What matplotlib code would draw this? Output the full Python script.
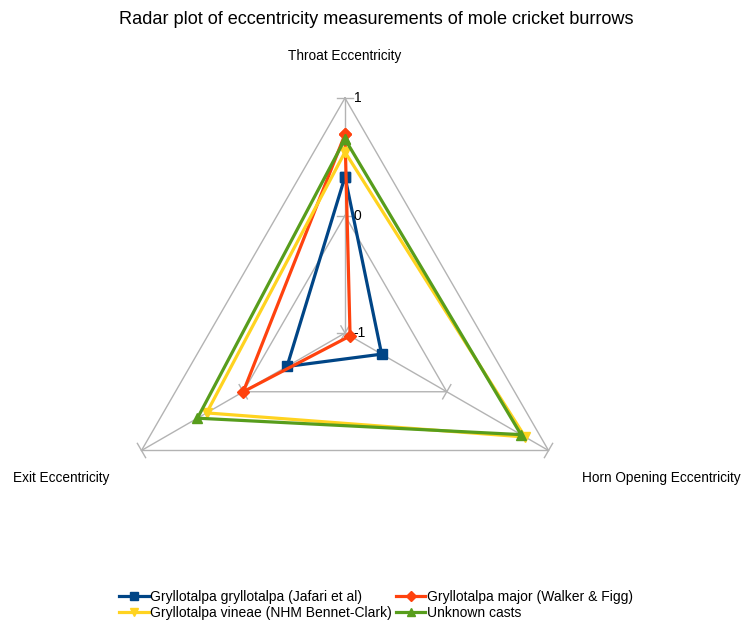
import numpy as np
import matplotlib

matplotlib.use("Agg")
import matplotlib.pyplot as plt  # noqa: E402

plt.rcParams["font.family"] = ["Liberation Sans", "DejaVu Sans"]

# Radar axes, clockwise from the top
AXES = ["Throat Eccentricity", "Horn Opening Eccentricity", "Exit Eccentricity"]
LEVELS = [-1, 0, 1]

SERIES = [
    "Gryllotalpa gryllotalpa (Jafari et al)",
    "Gryllotalpa major (Walker & Figg)",
    "Gryllotalpa vineae (NHM Bennet-Clark)",
    "Unknown casts",
]
gryllotalpa = [0.33, -0.64, -0.43]
major = [0.69, -0.95, 0.0]
vineae = [0.54, 0.77, 0.36]
unknown = [0.65, 0.73, 0.45]
VALUES = [gryllotalpa, major, vineae, unknown]

COLOR = ["#004586", "#ff420e", "#ffd320", "#579d1c"]
MARKER = ["s", "D", "v", "^"]
MSIZE = [7, 6, 7, 7]
GRID = "#b3b3b3"

# angle of each spoke (top, lower right, lower left)
ANG = np.deg2rad([90, -30, 210])
RMIN = LEVELS[0]


def xy(vals):
    r = np.asarray(vals, dtype=float) - RMIN
    return r * np.cos(ANG), r * np.sin(ANG)


W, H = 742, 623
fig = plt.figure(figsize=(W / 100, H / 100), dpi=100)
S = 117.5  # pixels per unit
cx, cy = 345, H - 333
xl, yl = (-2.5, 2.5), (-1.2, 2.1)
ax = fig.add_axes([(cx + xl[0] * S) / W, (cy + yl[0] * S) / H,
                   (xl[1] - xl[0]) * S / W, (yl[1] - yl[0]) * S / H])
ax.set_xlim(*xl)
ax.set_ylim(*yl)
ax.axis("off")

# grid: triangles, spokes and small ticks
for lv in LEVELS[1:]:
    gx, gy = xy([lv] * 3)
    ax.plot(np.append(gx, gx[0]), np.append(gy, gy[0]), color=GRID, lw=1.0, zorder=1)
ox, oy = xy([LEVELS[-1]] * 3)
for a, x1, y1 in zip(ANG, ox, oy):
    ax.plot([0, x1], [0, y1], color=GRID, lw=1.0, zorder=1)
    px, py = -np.sin(a), np.cos(a)
    for lv in LEVELS:
        r = lv - RMIN
        bx, by = r * np.cos(a), r * np.sin(a)
        ax.plot([bx - 0.07 * px, bx + 0.07 * px], [by - 0.07 * py, by + 0.07 * py],
                color=GRID, lw=1.0, zorder=1)
for lv in LEVELS:
    ax.text(0.075, lv - RMIN, str(lv), fontsize=10, ha="left", va="center", zorder=5)

handles = []
for name, vals, c, m, ms in zip(SERIES, VALUES, COLOR, MARKER, MSIZE):
    x, y = xy(vals)
    h, = ax.plot(np.append(x, x[0]), np.append(y, y[0]), color=c, lw=2.3,
                 marker=m, ms=ms, label=name, zorder=3)
    handles.append(h)

fig.text(376 / W, 1 - 20 / H, "Radar plot of eccentricity measurements of mole cricket burrows",
         ha="center", va="center", fontsize=13.1)
fig.text(345 / W, 1 - 56 / H, AXES[0], ha="center", va="center", fontsize=9.8)
fig.text(661 / W, 1 - 478 / H, AXES[1], ha="center", va="center", fontsize=9.8)
fig.text(61 / W, 1 - 478 / H, AXES[2], ha="center", va="center", fontsize=9.8)

# row-major legend order, as in the reference
order = [0, 2, 1, 3]
fig.legend([handles[i] for i in order], [SERIES[i] for i in order],
           loc="center", bbox_to_anchor=(376 / W, 1 - 605 / H), ncol=2, frameon=False,
           fontsize=10, handlelength=2.1, columnspacing=0.3, handletextpad=0.1,
           labelspacing=0.1, borderaxespad=0, markerscale=0.8)

fig.savefig("out.png", dpi=100)
